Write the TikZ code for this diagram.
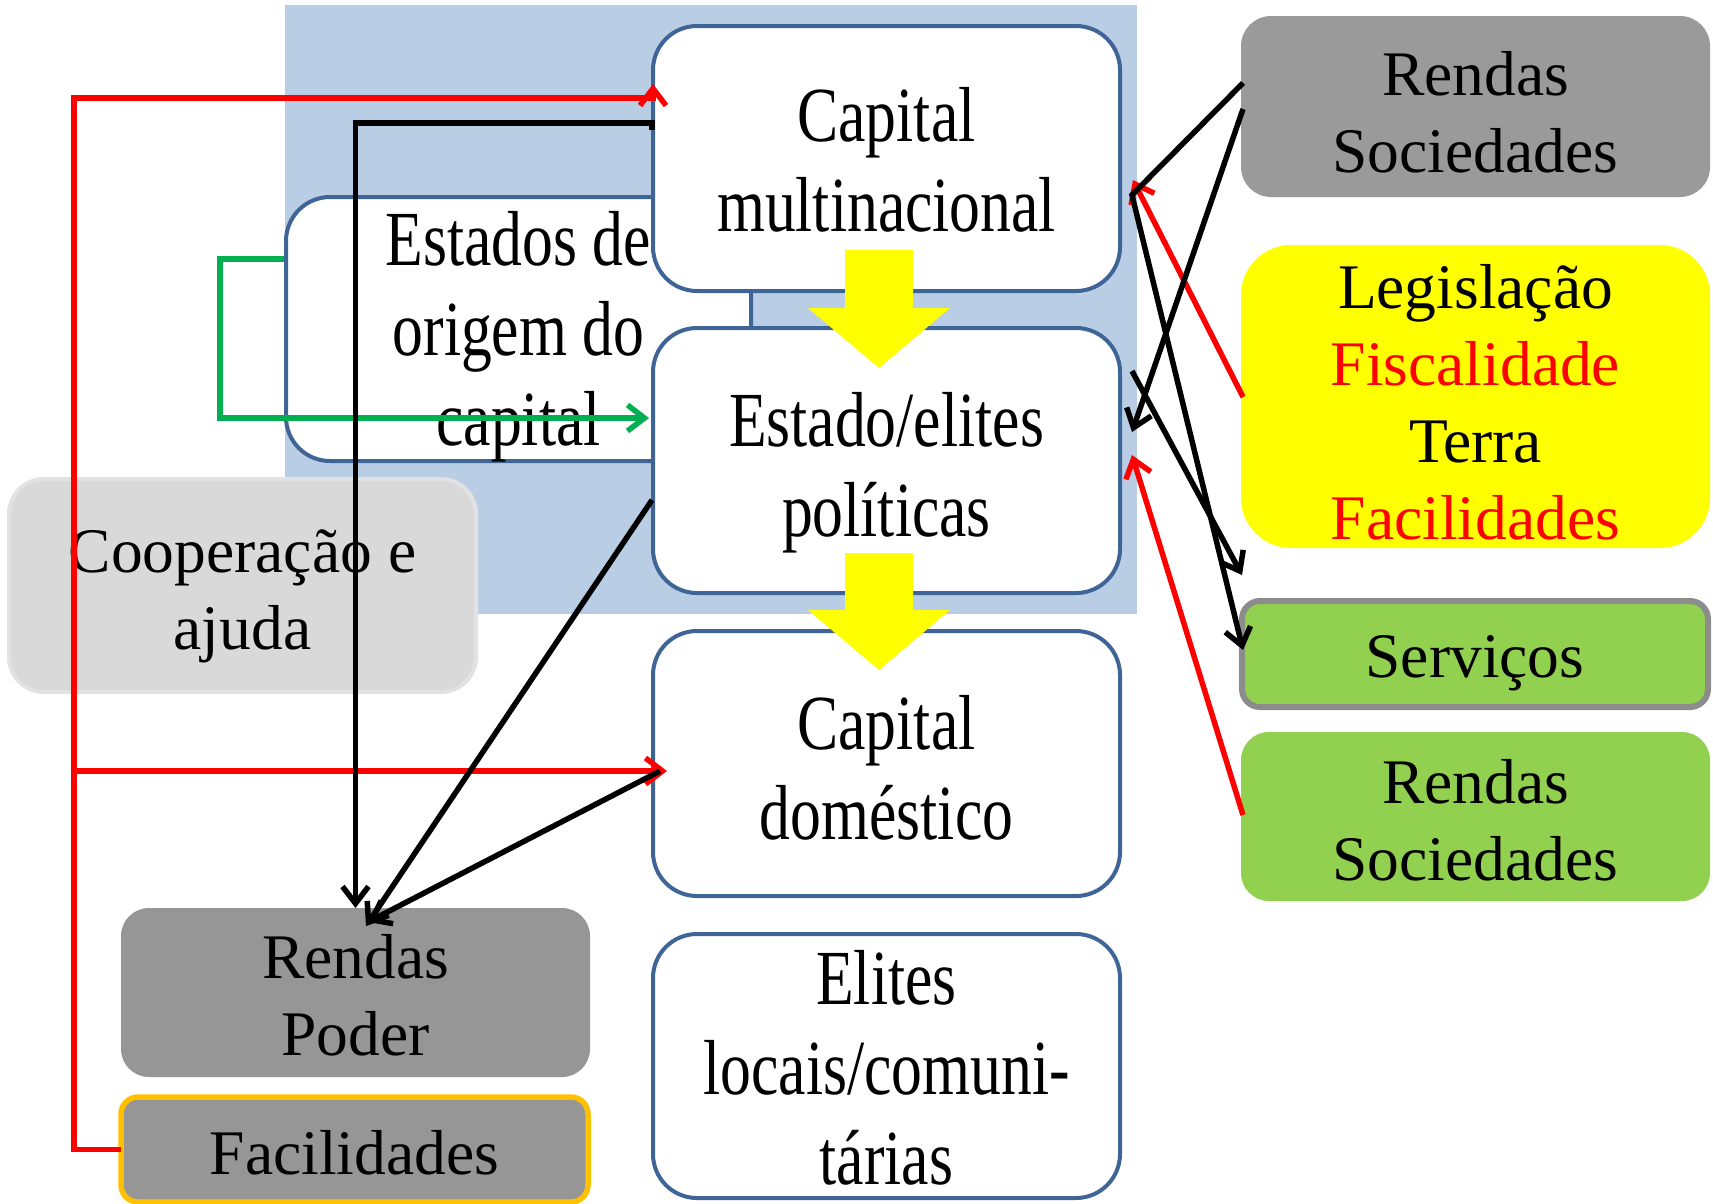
\documentclass[tikz,border=0pt]{standalone}
\usepackage{fontspec}
\setmainfont{Liberation Serif}
\newfontfamily\narrowserif{Liberation Serif}[FakeStretch=0.79]
\usetikzlibrary{arrows.meta,calc}
\definecolor{bgblue}{HTML}{B9CDE5}
\definecolor{boxblue}{HTML}{3F6597}
\definecolor{grayA}{HTML}{9A9A9A}
\definecolor{grayB}{HTML}{969696}
\definecolor{coopgray}{HTML}{D9D9D9}
\definecolor{coopline}{HTML}{E2E2E2}
\definecolor{lgreen}{HTML}{92D050}
\definecolor{servline}{HTML}{8C8C8C}
\definecolor{orangeline}{HTML}{FFC000}
\definecolor{ggreen}{HTML}{00B050}
\definecolor{myred}{HTML}{FF0000}
\definecolor{myyellow}{HTML}{FFFF00}
\newcommand\boxlines[1]{\begin{tabular}[t]{@{}c@{}}#1\end{tabular}}
\begin{document}
\begin{tikzpicture}[x=1pt,y=-1pt,
  box/.style={rectangle, inner sep=0pt, outer sep=0pt},
  wbox/.style={box, draw=boxblue, line width=4pt, fill=white, rounded corners=44pt, minimum width=467pt, minimum height=265pt},
  cbox/.style={box, rounded corners=#1},
  wtxt/.style={anchor=base, inner sep=0pt, font=\narrowserif\fontsize{78}{90}\selectfont},
  ctxt/.style={anchor=base, inner sep=0pt, font=\fontsize{63.5}{77}\selectfont},
  conn/.style={line width=5.5pt},
  arr/.style={-{Straight Barb[length=17pt,width=26pt]}}]
\fill[white] (0,0) rectangle (1713,1203);
\useasboundingbox (0,0) rectangle (1713,1203);
% background
\node[box, fill=bgblue, minimum width=852pt, minimum height=609pt] (bg) at (711,309.5) {};
% Estados de origem do capital
\node[wbox, minimum width=465pt, minimum height=264pt] (est) at (518.5,329) {};
\node[wtxt] (est-t) at (518.5,265) {\boxlines{Estados de\\origem do\\capital}};
% Cooperacao
\node[cbox=35pt, fill=coopgray, draw=coopline, line width=4pt, minimum width=467pt, minimum height=213pt] (coop) at (242.5,585.5) {};
\node[ctxt] (coop-t) at (242.5,572) {\boxlines{Cooperação e\\ajuda}};
% central column
\node[wbox] (cm) at (886.5,158.5) {};
\node[wbox] (ep) at (886.5,460.5) {};
\node[wbox] (cd) at (886.5,763.5) {};
\node[wbox, minimum height=264pt] (el) at (886.5,1066) {};
\node[wtxt] (cm-t) at (886.5,141) {\boxlines{Capital\\multinacional}};
\node[wtxt] (ep-t) at (886.5,446) {\boxlines{Estado/elites\\políticas}};
\node[wtxt] (cd-t) at (886.5,749) {\boxlines{Capital\\doméstico}};
\node[wtxt] (el-t) at (886.5,1004) {\boxlines{Elites\\locais/comuni-\\tárias}};
% right column
\node[cbox=30pt, fill=grayA, minimum width=469pt, minimum height=181pt] (rs1) at (1475.5,106.5) {};
\node[cbox=50pt, fill=myyellow, minimum width=469pt, minimum height=303pt] (leg) at (1475.5,396.5) {};
\node[cbox=18pt, fill=lgreen, draw=servline, line width=6pt, minimum width=466pt, minimum height=106pt] (serv) at (1475,654) {};
\node[cbox=28pt, fill=lgreen, minimum width=469pt, minimum height=169pt] (rs2) at (1475.5,816.5) {};
\node[ctxt] (rs1-t) at (1475.5,95) {\boxlines{Rendas\\Sociedades}};
\node[ctxt] (leg-t) at (1475.5,308) {\boxlines{Legislação\\\textcolor{myred}{Fiscalidade}\\Terra\\\textcolor{myred}{Facilidades}}};
\node[ctxt] (serv-t) at (1475,677) {Serviços};
\node[ctxt] (rs2-t) at (1475.5,803) {\boxlines{Rendas\\Sociedades}};
% left bottom
\node[cbox=28pt, fill=grayB, minimum width=469pt, minimum height=169pt] (rp) at (355.5,992.5) {};
\node[cbox=17pt, fill=grayB, draw=orangeline, line width=5.5pt, minimum width=467pt, minimum height=105pt] (fac) at (354.5,1149.5) {};
\node[ctxt] (rp-t) at (355.5,978) {\boxlines{Rendas\\Poder}};
\node[ctxt] (fac-t) at (354.5,1174) {Facilidades};
% yellow block arrows
\fill[myyellow] (845,250) -- (913,250) -- (913,308) -- (950,308) -- (879,368) -- (808,308) -- (845,308) -- cycle;
\fill[myyellow] (845,553) -- (913,553) -- (913,610) -- (950,610) -- (879,670) -- (808,610) -- (845,610) -- cycle;
% green connector
\draw[conn, ggreen, arr] ($(est.west)+(-2,-70)$) -- ++(-64,0) |- ($(ep.west)+(-4,-42.5)$);
% red connectors
\draw[conn, myred, arr] (fac.west) -- ++(-47,0) |- ($(cm.north west)+(0,72)$) -- ++(0,-14);
\draw[conn, myred, arr] ($(fac.west)+(-47,-378.5)$) -- ($(cd.west)+(14,7.5)$);
\draw[conn, myred, arr] ($(leg.west)+(2,0.5)$) -- ($(cm.east)+(13,21.5)$);
\draw[conn, myred, arr] ($(rs2.west)+(2,-1.5)$) -- ($(ep.east)+(12,-5.5)$);
% black connectors
\draw[conn, arr] ($(cm.west)+(-1,-28.5)$) -- ++(0,-7) -| (rp.north);
\draw[conn, arr] ($(ep.west)+(-1,39.5)$) -- ($(rp.north)+(10.5,18)$);
\draw[conn, arr] ($(cd.west)+(7,7.5)$) -- ($(rp.north)+(12.5,14)$);
\draw[conn, arr] ($(rs1.west)+(2,-23.5)$) -- ($(cm.east)+(12,36.5)$) -- ($(serv.west)+(1,-4)$);
\draw[conn, arr] ($(rs1.west)+(2,2.5)$) -- ($(ep.east)+(12,-28.5)$);
\draw[conn, arr] ($(ep.east)+(12,-89.5)$) -- ($(leg.south west)+(1,27)$);
\end{tikzpicture}
\end{document}
